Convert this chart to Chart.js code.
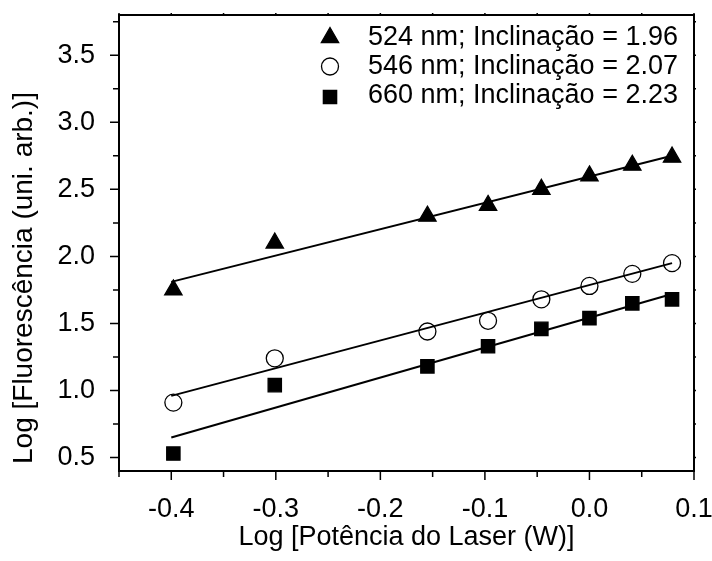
<!DOCTYPE html>
<html>
<head>
<meta charset="utf-8">
<script src="https://cdn.jsdelivr.net/npm/chart.js@4.4.1/dist/chart.umd.min.js"></script>
<style>
  html, body { margin: 0; padding: 0; background: #fff; }
  #wrap { width: 712px; height: 561px; }
</style>
</head>
<body>
<div id="wrap"><canvas id="chart"></canvas></div>
<script>
// Log of laser power (W)
var logPower = [-0.398, -0.301, -0.155, -0.097, -0.046, 0, 0.041, 0.079];
// Log of fluorescence for each emission band
var f524 = [1.75, 2.10, 2.30, 2.38, 2.50, 2.60, 2.68, 2.74];
var f546 = [0.91, 1.24, 1.44, 1.52, 1.68, 1.78, 1.87, 1.95];
var f660 = [0.53, 1.04, 1.18, 1.33, 1.46, 1.54, 1.65, 1.68];
// linear fits (end points)
var fitX = [-0.4, 0.079];
var fit524 = [1.81, 2.75];
var fit546 = [0.96, 1.95];
var fit660 = [0.65, 1.72];

var seriesLabels = ['524 nm; Inclina\u00e7\u00e3o = 1.96', '546 nm; Inclina\u00e7\u00e3o = 2.07', '660 nm; Inclina\u00e7\u00e3o = 2.23'];
var xTicks = [-0.4, -0.3, -0.2, -0.1, 0.0, 0.1];
var yTicks = [0.5, 1.0, 1.5, 2.0, 2.5, 3.0, 3.5];
var yTitle = 'Log [Fluoresc\u00eancia (uni. arb.)]';

var FONT = "'Liberation Sans', Arial, sans-serif";

function pts(xs, ys) {
  return xs.map(function(x, i) { return {x: x, y: ys[i]}; });
}

function fitLine(ys) {
  return {
    data: pts(fitX, ys),
    showLine: true,
    borderColor: '#000',
    borderWidth: 2,
    pointRadius: 0,
    fill: false
  };
}

var markers = [
  {style: 'triangle', radius: 10, bg: '#000'},
  {style: 'circle', radius: 8.5, bg: '#fff'},
  {style: 'rect', radius: 9.4, bg: '#000'}
];

function scatterSet(ys, m) {
  return {
    data: pts(logPower, ys),
    showLine: false,
    pointStyle: m.style,
    pointRadius: m.radius,
    pointBackgroundColor: m.bg,
    pointBorderColor: '#000',
    pointBorderWidth: 1.3
  };
}

// frame, tick marks, y title and the legend box
var framePlugin = {
  id: 'frame',
  afterDatasetsDraw: function(chart) {
    var c = chart.ctx, a = chart.chartArea;
    var xs = chart.scales.x, ys = chart.scales.y;
    c.save();
    c.strokeStyle = '#000';
    c.lineWidth = 2;
    c.strokeRect(a.left, a.top, a.right - a.left, a.bottom - a.top);
    c.lineWidth = 1.5;
    c.beginPath();
    var v, p, major;
    for (var i = -9; i <= 2; i++) {
      v = i * 0.05;
      p = xs.getPixelForValue(v);
      major = (i % 2 === 0);
      c.moveTo(p, a.bottom);
      c.lineTo(p, a.bottom + (major ? 9 : 6));
      c.moveTo(p, a.top);
      c.lineTo(p, a.top - 2);
    }
    for (var j = 2; j <= 15; j++) {
      v = j * 0.25;
      p = ys.getPixelForValue(v);
      major = (j % 2 === 0);
      c.moveTo(a.left, p);
      c.lineTo(a.left - (major ? 9 : 6), p);
      c.moveTo(a.right, p);
      c.lineTo(a.right + 2, p);
    }
    c.stroke();

    // y axis title
    c.save();
    c.translate(32, 278);
    c.rotate(-Math.PI / 2);
    c.font = '28px ' + FONT;
    c.fillStyle = '#000';
    c.textAlign = 'center';
    c.textBaseline = 'alphabetic';
    c.fillText(yTitle, 0, 0);
    c.restore();

    // legend
    var markerY = [37.5, 66.5, 97];
    var textY = [45, 74, 103];
    c.font = '27px ' + FONT;
    c.textBaseline = 'alphabetic';
    for (var k = 0; k < seriesLabels.length; k++) {
      var m = markers[k];
      c.fillStyle = m.bg;
      c.strokeStyle = '#000';
      c.lineWidth = 1.3;
      Chart.helpers.drawPoint(c, {pointStyle: m.style, rotation: 0, radius: m.radius, borderWidth: 1.3}, 330, markerY[k]);
      c.fillStyle = '#000';
      c.fillText(seriesLabels[k], 368, textY[k]);
    }
    c.restore();
  }
};

var ctx = document.getElementById('chart');
var chart = new Chart(ctx, {
  type: 'scatter',
  data: {
    datasets: [
      fitLine(fit524), fitLine(fit546), fitLine(fit660),
      scatterSet(f524, markers[0]),
      scatterSet(f546, markers[1]),
      scatterSet(f660, markers[2])
    ]
  },
  options: {
    responsive: true,
    maintainAspectRatio: false,
    animation: false,
    layout: { padding: { top: 15, right: 18, left: 0, bottom: 0 } },
    plugins: {
      legend: { display: false },
      tooltip: { enabled: false }
    },
    scales: {
      x: {
        type: 'linear',
        min: -0.45,
        max: 0.1,
        afterFit: function(s) {
          s.height = 90;
          s.paddingLeft = 0;
          s.paddingRight = 0;
        },
        afterBuildTicks: function(s) { s.ticks = xTicks.map(function(v) { return {value: v}; }); },
        grid: { display: false },
        border: { display: false },
        ticks: {
          padding: 14,
          color: '#000',
          maxRotation: 0,
          font: { family: FONT, size: 27 },
          callback: function(v) { return v.toFixed(1); }
        },
        title: {
          display: true,
          text: 'Log [Pot\u00eancia do Laser (W)]',
          color: '#000',
          font: { family: FONT, size: 27 },
          padding: { top: 0, bottom: 7 }
        }
      },
      y: {
        type: 'linear',
        min: 0.4,
        max: 3.8,
        afterFit: function(s) {
          s.width = 119;
          s.paddingTop = 0;
          s.paddingBottom = 0;
        },
        afterBuildTicks: function(s) { s.ticks = yTicks.map(function(v) { return {value: v}; }); },
        grid: { display: false },
        border: { display: false },
        ticks: {
          padding: 16,
          color: '#000',
          font: { family: FONT, size: 27 },
          callback: function(v) { return v.toFixed(1); }
        }
      }
    }
  },
  plugins: [framePlugin]
});
</script>
</body>
</html>
